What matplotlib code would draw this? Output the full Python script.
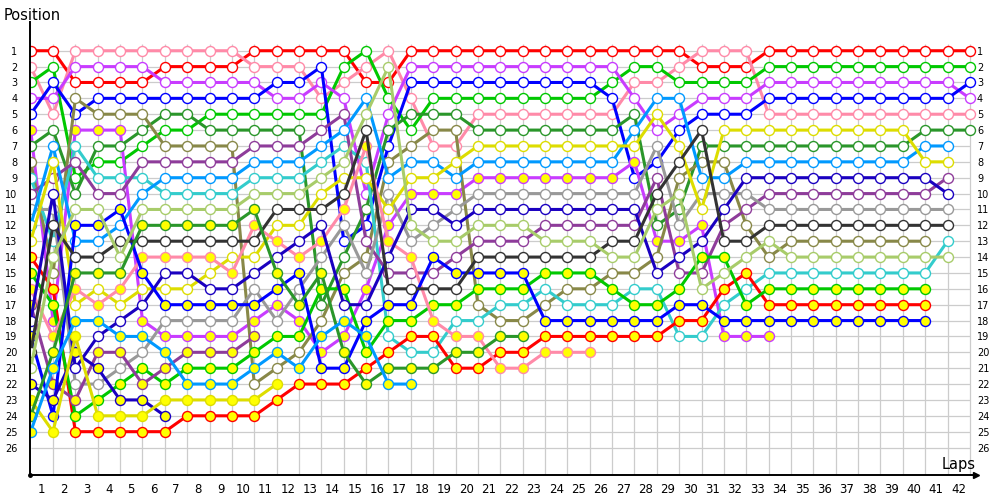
import matplotlib.pyplot as plt

# position of every driver after each lap (index = lap, 0 = grid)
red = [1, 1, 3, 3, 3, 3, 2, 2, 2, 2, 1, 1, 1, 1, 1, 3, 3, 1, 1, 1,
       1, 1, 1, 1, 1, 1, 1, 1, 1, 1, 2, 2, 2, 1, 1, 1, 1, 1, 1, 1, 1, 1, 1]
pink = [2, 5, 1, 1, 1, 1, 1, 1, 1, 1, 2, 2, 2, 4, 3, 2, 1, 4, 7, 7,
        5, 5, 5, 5, 5, 5, 5, 3, 3, 2, 1, 1, 1, 5, 5, 5, 5, 5, 5, 5, 5, 5, 5]
green = [3, 2, 9, 8, 8, 7, 6, 6, 5, 5, 5, 5, 5, 5, 2, 1, 4, 6, 4, 4,
         4, 4, 4, 4, 4, 4, 3, 2, 2, 3, 3, 3, 3, 2, 2, 2, 2, 2, 2, 2, 2, 2, 2]
magenta = [4, 4, 2, 2, 2, 2, 3, 3, 3, 3, 3, 4, 4, 3, 4, 10, 5, 2, 2, 2,
           2, 2, 2, 2, 2, 2, 2, 4, 6, 5, 4, 4, 4, 3, 3, 3, 3, 3, 3, 3, 3, 3, 4]
blue = [5, 3, 5, 4, 4, 4, 4, 4, 4, 4, 4, 3, 3, 2, 13, 12, 7, 3, 3, 3,
        3, 3, 3, 3, 3, 3, 4, 9, 8, 6, 5, 5, 5, 4, 4, 4, 4, 4, 4, 4, 4, 4, 3]
magenta_y = [6, 18, 6, 6, 6, 18, 19, 19, 19, 19, 18, 17, 18, 20, 19, 16, 12, 10, 10, 10,
             9, 9, 9, 9, 9, 9, 9, 8, 13, 13, 12, 19, 19, 19]
dkgreen = [7, 6, 10, 7, 7, 6, 5, 5, 6, 6, 6, 6, 6, 17, 14, 11, 6, 5, 5, 5,
           6, 6, 6, 6, 6, 6, 6, 5, 12, 11, 7, 7, 7, 7, 7, 7, 7, 7, 7, 7, 6, 6, 6]
olive = [8, 15, 4, 5, 5, 5, 7, 7, 7, 7, 22, 21, 20, 18, 15, 14, 8, 7, 6, 6,
         17, 18, 18, 17, 16, 16, 15, 15, 14, 9, 8, 8, 12, 14, 13, 13, 13, 13, 13, 13, 13]
teal = [9, 13, 7, 9, 9, 9, 10, 10, 10, 10, 9, 9, 9, 8, 7, 8, 19, 20, 20, 18,
        18, 17, 17, 16, 17, 17, 17, 16, 16, 19, 19, 17, 16, 15, 15, 15, 15, 15, 15, 15, 15, 13]
purple = [10, 9, 8, 10, 10, 8, 8, 8, 8, 8, 7, 7, 7, 6, 5, 13, 15, 15, 15, 14,
          13, 13, 13, 12, 12, 12, 12, 12, 9, 15, 15, 12, 11, 10, 10, 10, 10, 10, 10, 10, 10, 9]
gray = [11, 11, 22, 22, 21, 20, 18, 18, 18, 18, 16, 18, 16, 14, 12, 15, 10, 13, 12, 11,
        10, 10, 10, 10, 10, 10, 10, 10, 7, 12, 10, 10, 10, 11, 11, 11, 11, 11, 11, 11, 11, 11]
skyblue = [12, 7, 13, 13, 12, 10, 9, 9, 9, 9, 8, 8, 8, 7, 6, 4, 9, 8, 8, 9,
           8, 8, 8, 8, 8, 8, 8, 6, 4, 4, 9, 9, 8, 8, 8, 8, 8, 8, 8, 8, 7, 7]
yellow = [13, 8, 17, 16, 17, 16, 16, 16, 15, 14, 14, 12, 12, 10, 9, 9, 11, 9, 9, 8,
          7, 7, 7, 7, 7, 7, 7, 7, 5, 7, 11, 6, 6, 6, 6, 6, 6, 6, 6, 6, 8, 8]
red_y = [14, 16, 25, 25, 25, 25, 25, 24, 24, 24, 24, 23, 22, 22, 22, 21, 20, 19, 19, 21,
         21, 20, 20, 19, 19, 19, 19, 19, 19, 18, 18, 16, 15, 17, 17, 17, 17, 17, 17, 17, 17]
green_y = [15, 17, 24, 23, 22, 21, 22, 21, 21, 21, 20, 19, 19, 16, 16, 20, 18, 18, 17, 17,
           16, 16, 16, 15, 15, 15, 16, 17, 17, 16, 14, 14, 17, 16, 16, 16, 16, 16, 16, 16, 16]
pink_y = [16, 19, 16, 17, 16, 14, 14, 14, 14, 15, 12, 13, 14, 13, 11, 7, 13, 14, 18, 19,
          19, 21, 21, 20, 20, 20]
purple_y = [17, 22, 23, 20, 20, 22, 21, 20, 20, 20, 19]
navy = [18, 10, 21, 19, 18, 17, 15, 15, 16, 16, 15, 14, 13, 12, 17, 17, 14, 11, 11, 12,
        11, 11, 11, 11, 11, 11, 11, 11, 15, 14, 13, 11, 9, 9, 9, 9, 9, 9, 9, 9, 9, 10]
blue_y = [19, 24, 12, 12, 11, 15, 17, 17, 17, 17, 17, 16, 15, 21, 21, 18, 17, 17, 14, 15,
          15, 15, 15, 18, 18, 18, 18, 18, 18, 17, 17, 18, 18, 18, 18, 18, 18, 18, 18, 18, 18]
black = [20, 12, 14, 14, 13, 13, 13, 13, 13, 13, 13, 11, 11, 11, 10, 6, 16, 16, 16, 16,
         14, 14, 14, 14, 14, 14, 13, 13, 10, 8, 6, 13, 13, 12, 12, 12, 12, 12, 12, 12, 12, 12]
ltgreen = [21, 14, 11, 11, 14, 11, 11, 11, 11, 11, 10, 10, 10, 9, 8, 5, 2, 12, 13, 13,
           12, 12, 12, 13, 13, 13, 14, 14, 11, 10, 16, 15, 14, 13, 14, 14, 14, 14, 14, 14, 14, 14]
navy_y = [22, 23, 20, 21, 23, 23, 24]
yellow_y = [23, 25, 19, 24, 24, 24, 23, 23, 23, 23, 23, 22]
dkgreen_y = [24, 20, 15, 15, 15, 12, 12, 12, 12, 12, 11, 15, 17, 15, 20, 22, 21, 21, 21, 20,
             20, 19, 19]
skyblue_y = [25, 21, 18, 18, 19, 19, 20, 22, 22, 22, 21, 20, 21, 19, 18, 19, 22, 22]

# (positions, line colour, marker fill) in grid order
drivers = [
    (red, '#ff0000', 'white'),
    (pink, '#ff8aa8', 'white'),
    (green, '#00c800', 'white'),
    (magenta, '#c83cff', 'white'),
    (blue, '#0000ff', 'white'),
    (magenta_y, '#c83cff', '#ffff00'),
    (dkgreen, '#2a962a', 'white'),
    (olive, '#888848', 'white'),
    (teal, '#33cccc', 'white'),
    (purple, '#8e3c9a', 'white'),
    (gray, '#999999', 'white'),
    (skyblue, '#0099ff', 'white'),
    (yellow, '#dddd00', 'white'),
    (red_y, '#ff0000', '#ffff00'),
    (green_y, '#00c800', '#ffff00'),
    (pink_y, '#ff8aa8', '#ffff00'),
    (purple_y, '#8e3c9a', '#ffff00'),
    (navy, '#1a00c0', 'white'),
    (blue_y, '#0000ff', '#ffff00'),
    (black, '#333333', 'white'),
    (ltgreen, '#a8cc6a', 'white'),
    (navy_y, '#1a00c0', '#ffff00'),
    (yellow_y, '#dddd00', '#ffff00'),
    (dkgreen_y, '#2a962a', '#ffff00'),
    (skyblue_y, '#0099ff', '#ffff00'),
]

n_laps = 42
n_pos = 26

fig = plt.figure(figsize=(10, 5), dpi=100)
ax = fig.add_axes([0.03, 0.05, 0.9455, 0.906])
ax.set_xlim(-0.03, 42.25)
ax.set_ylim(27.73, -0.81)

# grid
ax.vlines(range(1, n_laps + 1), 0.6, 27.73, color='#cccccc', lw=0.9, zorder=0)
ax.hlines(range(1, n_pos + 1), 0, n_laps, color='#cccccc', lw=0.9, zorder=0)

for pos, col, fill in drivers:
    ax.plot(range(len(pos)), pos, '-o', color=col, lw=2.2, ms=7.2,
            mfc=fill, mec=col, mew=1.0, zorder=2)

for side in ['top', 'right']:
    ax.spines[side].set_visible(False)
ax.spines['left'].set_linewidth(1.4)
ax.spines['bottom'].set_linewidth(1.4)
ax.plot(1, 0, '>k', ms=5, transform=ax.transAxes, clip_on=False)
ax.plot(0, 0, 'ok', ms=2.5, transform=ax.transAxes, clip_on=False)

ax.set_xticks([k - 0.5 for k in range(1, n_laps + 1)])
ax.set_xticklabels([str(k) for k in range(1, n_laps + 1)], fontsize=8.5)
ax.tick_params(axis='x', length=0, pad=6)
ax.set_yticks(range(1, n_pos + 1))
ax.set_yticklabels([str(p) for p in range(1, n_pos + 1)], fontsize=7)
ax.tick_params(axis='y', length=0, pad=9)

ax2 = ax.twinx()
ax2.set_ylim(ax.get_ylim())
ax2.set_yticks(range(1, n_pos + 1))
ax2.set_yticklabels([str(p) for p in range(1, n_pos + 1)], fontsize=7)
ax2.tick_params(axis='y', length=0, pad=1)
for side in ax2.spines:
    ax2.spines[side].set_visible(False)

fig.text(0.004, 0.97, 'Position', fontsize=10.5, ha='left', va='center')
fig.text(0.942, 0.07, 'Laps', fontsize=10.5, ha='left', va='center')

fig.savefig('out.png', dpi=100)
